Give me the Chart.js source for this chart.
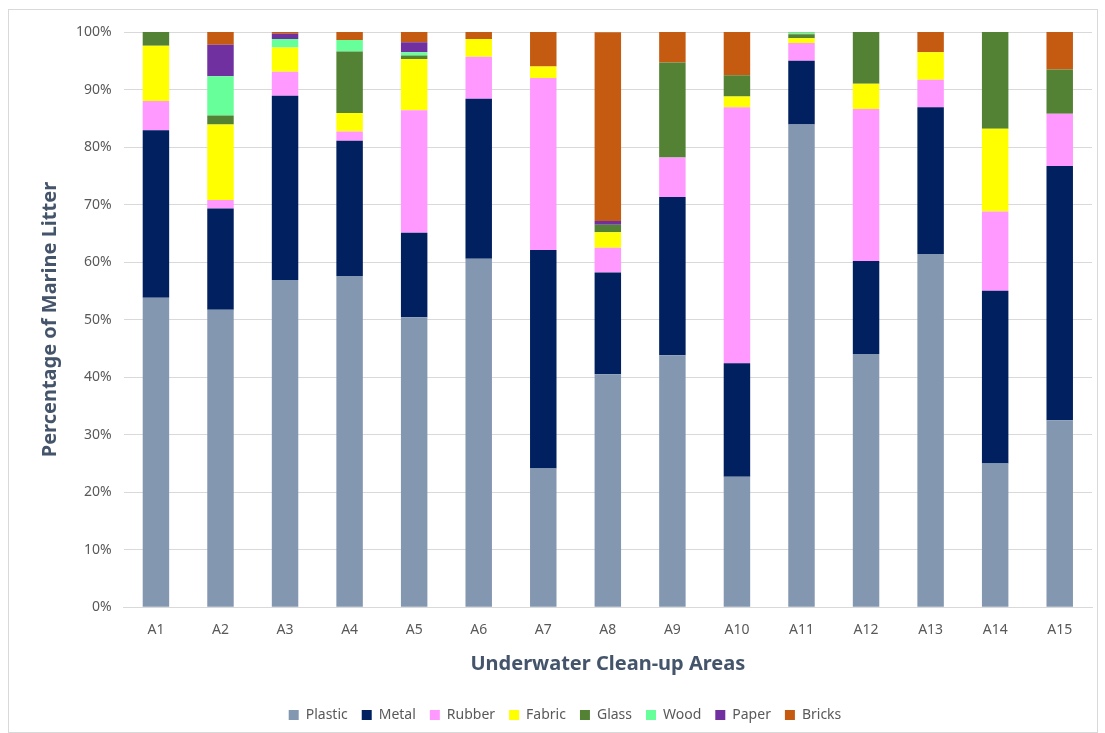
<!DOCTYPE html>
<html>
<head>
<meta charset="utf-8">
<script src="https://cdn.jsdelivr.net/npm/chart.js@4.4.1/dist/chart.umd.min.js"></script>
<style>
    body { margin: 0; background: #fff; }
    .chart-box {
        position: absolute;
        left: 8px;
        top: 9px;
        width: 1090px;
        height: 724px;
        border: 1px solid #D9D9D9;
        box-sizing: border-box;
    }
</style>
</head>
<body>
<div class="chart-box">
    <canvas id="litterChart"></canvas>
</div>
<script>
    // Underwater clean-up areas
    const areas = ['A1', 'A2', 'A3', 'A4', 'A5', 'A6', 'A7', 'A8', 'A9', 'A10', 'A11', 'A12', 'A13', 'A14', 'A15'];

    // Percentage of each litter type per area
    const plastic = [53.8, 51.7, 56.9, 57.6, 50.4, 60.6, 24.1, 40.5, 43.8, 22.7, 83.9, 44.0, 61.4, 25.0, 32.5];
    const metal   = [29.1, 17.6, 32.0, 23.5, 14.7, 27.8, 38.0, 17.7, 27.5, 19.7, 11.1, 16.2, 25.5, 30.0, 44.2];
    const rubber  = [5.1, 1.5, 4.2, 1.6, 21.3, 7.3, 29.9, 4.3, 6.9, 44.5, 3.1, 26.4, 4.8, 13.8, 9.1];
    const fabric  = [9.6, 13.1, 4.2, 3.2, 8.9, 3.1, 2.0, 2.7, 0, 1.9, 0.8, 4.4, 4.8, 14.4, 0];
    const glass   = [2.4, 1.6, 0, 10.7, 0.6, 0, 0, 1.3, 16.5, 3.7, 0.7, 9.0, 0, 16.8, 7.7];
    const wood    = [0, 6.8, 1.5, 2.0, 0.6, 0, 0, 0, 0, 0, 0.3, 0, 0, 0, 0];
    const paper   = [0, 5.5, 0.9, 0, 1.7, 0, 0, 0.65, 0, 0, 0, 0, 0, 0, 0];
    const bricks  = [0, 2.2, 0.3, 1.4, 1.8, 1.2, 6.0, 32.8, 5.3, 7.5, 0.2, 0, 3.5, 0, 6.5];

    const yTicks = [0, 10, 20, 30, 40, 50, 60, 70, 80, 90, 100];

    const textGray = '#595959';
    const titleBlue = '#44546A';
    const font = '"Noto Sans", "Open Sans", sans-serif';

    function series(label, data, color) {
        return {
            label: label,
            data: data,
            backgroundColor: color,
            borderWidth: 0,
            barPercentage: 0.41,
            categoryPercentage: 1.0
        };
    }

    const ctx = document.getElementById('litterChart').getContext('2d');
    new Chart(ctx, {
        type: 'bar',
        data: {
            labels: areas,
            datasets: [
                series('Plastic', plastic, '#8497B0'),
                series('Metal', metal, '#002060'),
                series('Rubber', rubber, '#FF99FF'),
                series('Fabric', fabric, '#FFFF00'),
                series('Glass', glass, '#548235'),
                series('Wood', wood, '#66FF99'),
                series('Paper', paper, '#7030A0'),
                series('Bricks', bricks, '#C55A11')
            ]
        },
        options: {
            responsive: true,
            maintainAspectRatio: false,
            animation: false,
            layout: {
                padding: { top: 22, right: 5, left: 29, bottom: 0 }
            },
            plugins: {
                tooltip: { enabled: false },
                legend: {
                    display: true,
                    position: 'bottom',
                    labels: {
                        boxWidth: 10,
                        boxHeight: 10,
                        padding: 14,
                        color: textGray,
                        font: { family: font, size: 14 }
                    }
                }
            },
            scales: {
                x: {
                    stacked: true,
                    grid: { display: false, drawTicks: false },
                    border: { color: '#D9D9D9', width: 1 },
                    ticks: {
                        color: textGray,
                        padding: 14,
                        font: { family: font, size: 14 }
                    },
                    title: {
                        display: true,
                        text: 'Underwater Clean-up Areas',
                        color: titleBlue,
                        padding: { top: 0, bottom: 18 },
                        font: { family: font, size: 20, weight: 'bold' }
                    }
                },
                y: {
                    stacked: true,
                    min: 0,
                    max: 100,
                    afterBuildTicks: function (axis) {
                        axis.ticks = yTicks.map(v => ({ value: v }));
                    },
                    grid: { color: '#D9D9D9', drawTicks: false },
                    border: { display: false },
                    ticks: {
                        color: textGray,
                        padding: 12,
                        font: { family: font, size: 14 },
                        callback: v => v + '%'
                    },
                    title: {
                        display: true,
                        text: 'Percentage of Marine Litter',
                        color: titleBlue,
                        padding: { top: 0, bottom: 2 },
                        font: { family: font, size: 20, weight: 'bold' }
                    }
                }
            }
        }
    });
</script>
</body>
</html>
